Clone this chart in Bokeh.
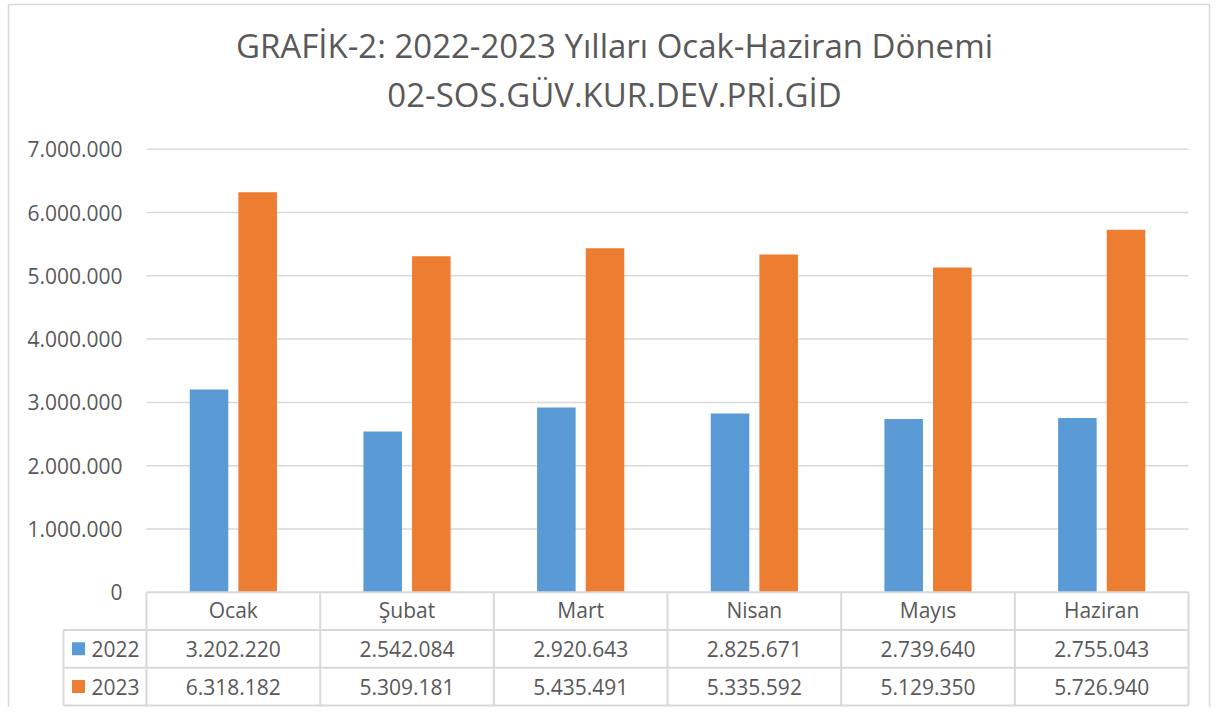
from bokeh.plotting import figure
from bokeh.models import Range1d, LinearAxis, FixedTicker, Label, Grid
from bokeh.core.properties import value
from bokeh.embed import file_html
from bokeh.resources import INLINE

# ---------------- data ----------------
months = ["Ocak", "Şubat", "Mart", "Nisan", "Mayıs", "Haziran"]
series_names = ["2022", "2023"]
values_2022 = [3202220, 2542084, 2920643, 2825671, 2739640, 2755043]
values_2023 = [6318182, 5309181, 5435491, 5335592, 5129350, 5726940]
y_ticks = [0, 1000000, 2000000, 3000000, 4000000, 5000000, 6000000, 7000000]
y_tick_labels = ["0", "1.000.000", "2.000.000", "3.000.000", "4.000.000",
                 "5.000.000", "6.000.000", "7.000.000"]
title_lines = ["GRAFİK-2: 2022-2023 Yılları Ocak-Haziran Dönemi",
               "02-SOS.GÜV.KUR.DEV.PRİ.GİD"]
series_colors = ["#5B9BD5", "#ED7D31"]

# ---------------- layout ----------------
W, H = 1211, 707
X0_PX = 146.0          # canvas x of first category boundary
CAT_PX = 173.67        # pixels per category
Y0_PX = 591.8          # canvas y of value 0
M_PX = 63.3            # pixels per 1,000,000

def px_x(cx):
    return (cx - X0_PX) / CAT_PX

def px_y(cy):
    return (Y0_PX - cy) / M_PX * 1e6

TEXT = "#595959"
LINE = "#d9d9d9"
FONT = "Open Sans"
n = len(months)
row_h = 37.7 / M_PX * 1e6
legend_left = px_x(63)

p = figure(width=W, height=H, output_backend="svg", toolbar_location=None, tools="",
           x_axis_location=None, y_axis_location=None,
           x_range=Range1d(px_x(0), px_x(W)), y_range=Range1d(px_y(H), px_y(0)),
           min_border=0)
p.center = [r for r in p.center if not isinstance(r, Grid)]
p.outline_line_color = None
p.background_fill_color = "white"
p.border_fill_color = "white"

# chart border
p.quad(left=[px_x(8)], right=[px_x(1209)], top=[px_y(4)], bottom=[px_y(H + 10)],
       fill_color=None, line_color=LINE, line_width=1.5)

# gridlines (across category area only)
grid_y = y_ticks[1:]
p.segment(x0=[0] * len(grid_y), x1=[n] * len(grid_y), y0=grid_y, y1=grid_y,
          line_color=LINE, line_width=1.5)

# bars
bar_w = 0.222
off = 0.14
centers = [i + 0.5 for i in range(n)]
p.vbar(x=[c - off for c in centers], top=values_2022, bottom=0, width=bar_w,
       fill_color=series_colors[0], line_color=None)
p.vbar(x=[c + off for c in centers], top=values_2023, bottom=0, width=bar_w,
       fill_color=series_colors[1], line_color=None)

# data table lines
hx0 = [0, legend_left, legend_left, legend_left]
hy = [0, -row_h, -2 * row_h, -3 * row_h]
p.segment(x0=hx0, x1=[n] * 4, y0=hy, y1=hy, line_color=LINE, line_width=2)
vx = [legend_left] + list(range(n + 1))
vy0 = [-row_h] + [0] * (n + 1)
p.segment(x0=vx, x1=vx, y0=vy0, y1=[-3 * row_h] * len(vx), line_color=LINE, line_width=2)

def fmt(v):
    return f"{v:,}".replace(",", ".")

for k, vals in enumerate([values_2022, values_2023]):
    yc = -(k + 1.5) * row_h
    p.text(x=centers, y=[yc] * n, text=[fmt(v) for v in vals],
           text_align="center", text_baseline="middle",
           text_font=value(FONT), text_font_size="21px", text_color=TEXT)
    p.rect(x=[px_x(78)], y=[yc], width=13, height=13, width_units="screen",
           height_units="screen", fill_color=series_colors[k], line_color=None)
    p.text(x=[px_x(91)], y=[yc], text=[series_names[k]], text_align="left",
           text_baseline="middle", text_font=value(FONT), text_font_size="21px",
           text_color=TEXT)

# y axis (inside frame)
yaxis = LinearAxis(fixed_location=0, ticker=FixedTicker(ticks=y_ticks),
                   major_label_overrides={t: l for t, l in zip(y_ticks, y_tick_labels)},
                   axis_line_color=None, major_tick_line_color=None,
                   minor_tick_line_color=None, major_tick_out=0, major_tick_in=0,
                   major_label_standoff=24, major_label_text_font=FONT,
                   major_label_text_font_size="21px", major_label_text_color=TEXT)
p.add_layout(yaxis, "left")

# x axis -> header row of the table
xaxis = LinearAxis(fixed_location=0, ticker=FixedTicker(ticks=centers),
                   major_label_overrides={c: m for c, m in zip(centers, months)},
                   axis_line_color=None, major_tick_line_color=None,
                   minor_tick_line_color=None, major_tick_out=0, major_tick_in=0,
                   major_label_standoff=4, major_label_text_font=FONT,
                   major_label_text_font_size="21px", major_label_text_color=TEXT)
p.add_layout(xaxis, "below")

# title
for i, line in enumerate(title_lines):
    p.add_layout(Label(x=px_x(614), y=px_y(45 + 49 * i), text=line,
                       text_align="center", text_baseline="middle",
                       text_font=FONT, text_font_size="33px", text_color=TEXT))

open("out.html", "w").write(file_html(p, INLINE))
